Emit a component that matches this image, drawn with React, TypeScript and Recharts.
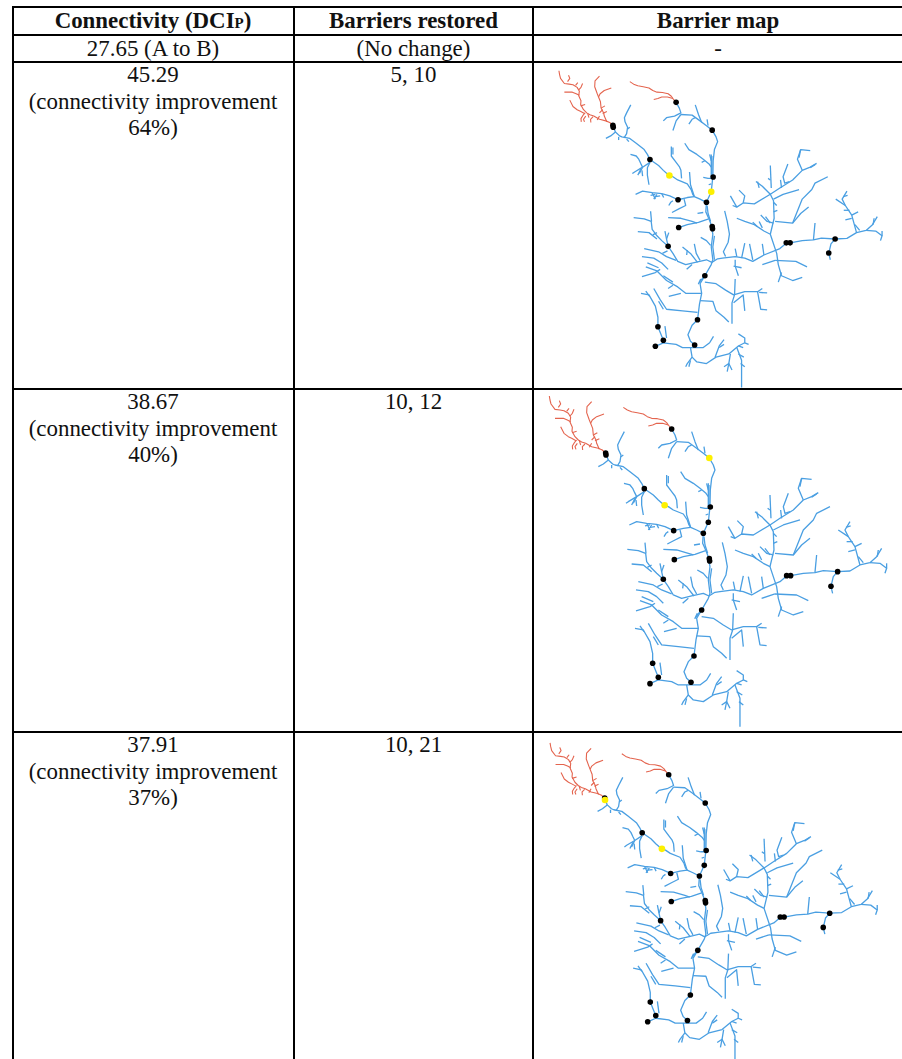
import React from "react";
import { ScatterChart, Scatter, XAxis, YAxis } from "recharts";

type P = [number, number];

const redBranches: P[][] = [
  [[28,18],[30,30],[33,42],[45,58],[60,60],[72,62],[85,70],[92,82],[90,96],[97,112],[96,124],[105,140],[115,150],[125,156],[137,160],[155,170],[175,175],[187,180],[197,190]],
  [[58,32],[62,42],[55,52]], [[102,58],[97,70],[90,78]], [[45,85],[70,85],[82,90],[92,95]],
  [[62,110],[72,130],[85,140],[95,145],[108,152]],
  [[98,178],[97,168],[103,158],[110,150]], [[108,178],[105,170],[112,160]], [[128,180],[127,170],[135,162]],
  [[155,35],[141,50],[140,68],[148,90],[158,115],[160,135],[168,150],[170,160],[178,178]],
  [[192,72],[170,80],[157,90],[152,100]], [[155,150],[165,140]], [[160,135],[172,128]], [[165,152],[178,146]],
  [[148,172],[155,160]], [[118,152],[122,165]], [[96,128],[110,124]], [[80,64],[87,55]],
  [[250,52],[262,60],[275,65],[292,68],[310,72],[322,80],[335,85],[352,86],[370,90],[380,98],[385,105],[395,117]],
  [[325,108],[338,105],[350,100],[368,100],[385,105]],
];

const blueUpperBranches: P[][] = [
  [[197,190],[205,210],[218,222],[225,225],[250,230],[270,245],[295,265],[305,280],[313,296],[340,315],[355,330],[372,345],[385,350],[400,360],[430,372],[442,390],[447,405],[452,412],[470,420],[490,430]],
  [[175,230],[190,222],[205,210]], [[215,235],[215,225]], [[240,232],[247,240]],
  [[253,125],[240,150],[233,165],[235,178],[243,195],[240,215],[232,228]], [[243,200],[250,195]],
  [[313,305],[290,320],[284,308],[278,295],[270,285],[252,280]],
  [[313,305],[305,322],[305,345],[310,375]],
  [[290,320],[265,335],[258,340]], [[290,320],[280,340]], [[285,325],[275,345]], [[288,330],[290,348]],
  [[380,255],[380,285],[395,305],[405,318],[410,330],[412,355]], [[385,258],[385,280]],
  [[437,335],[440,375],[452,412]],
  [[268,405],[290,395],[320,400],[350,403],[375,410],[401,422],[430,415],[452,412]],
  [[320,400],[330,420]], [[335,405],[325,420]], [[315,408],[330,405]], [[330,412],[345,410]], [[372,440],[378,430],[385,425]],
  [[420,420],[425,440],[405,450],[382,462]], [[350,403],[356,415]],
  [[395,117],[405,135],[410,150],[390,160],[365,165],[355,175]],
  [[410,155],[395,175],[385,205]],
  [[410,155],[445,157],[470,175],[490,190],[508,204],[520,225],[525,240],[515,265],[511,300],[510,350],[505,397],[490,430]],
  [[455,125],[465,155],[475,180]], [[492,170],[495,190]], [[435,185],[445,170],[455,165]],
  [[422,245],[435,265],[460,280],[480,295],[498,310],[505,320]],
  [[485,300],[475,305]], [[500,280],[505,300]],
  [[480,352],[495,355],[510,355]],
  [[505,280],[505,350],[512,350]], [[507,285],[507,345]], [[497,375],[505,372]],
];

const blueMiddleBranches: P[][] = [
  [[490,430],[488,460],[497,480],[505,500],[510,530],[505,570],[510,610],[505,625],[485,660],[470,685],[475,715],[468,750],[462,798],[445,815],[432,845],[440,865],[453,877]],
  [[492,440],[495,465],[503,490]],
  [[515,535],[510,570],[515,610]], [[462,465],[480,462]],
  [[403,509],[430,500],[465,493],[497,482]],
  [[370,478],[410,480],[445,490],[460,495]],
  [[547,457],[555,490],[562,530],[558,555],[543,585],[550,600]],
  [[472,540],[490,550],[503,565]],
  [[262,478],[295,482],[317,490],[320,515],[335,535],[350,550],[370,568],[385,590],[400,615],[425,625],[455,618],[490,610],[507,618]],
  [[315,458],[318,490]], [[275,522],[310,525],[335,545]], [[360,520],[365,545],[370,568]], [[372,525],[365,545]],
  [[295,575],[340,585],[365,600],[395,612]],
  [[288,600],[325,605],[350,620],[370,640]],
  [[305,620],[340,635]], [[352,590],[368,582]], [[322,532],[335,525]],
  [[415,570],[440,590],[462,618]], [[452,560],[458,590],[470,612]], [[428,640],[445,625]], [[430,580],[428,595]],
  [[288,663],[330,650],[345,640]],
  [[300,632],[335,645],[365,675],[400,695],[425,715],[475,715]],
  [[372,725],[410,715]], [[355,660],[385,680]], [[385,690],[370,700]],
  [[472,670],[465,685],[480,665]],
];

const blueLowerBranches: P[][] = [
  [[285,715],[310,720],[330,755],[338,790],[338,820],[355,862]],
  [[300,708],[312,725]],
  [[325,700],[345,735],[365,765],[415,770],[462,775]],
  [[340,740],[355,765]], [[360,818],[365,855]],
  [[330,881],[355,870],[395,875],[415,885],[453,885],[480,885],[500,870],[512,850]],
  [[440,885],[445,915],[460,930],[490,935],[520,915],[560,905],[590,880],[610,870]],
  [[590,842],[610,855],[610,870],[622,875]], [[590,880],[605,885]],
  [[445,915],[430,935],[425,945]], [[440,925],[435,945]],
  [[517,915],[530,880],[545,860]], [[530,885],[545,875]],
  [[565,905],[560,935],[555,960]], [[545,945],[560,935],[570,955]],
  [[585,885],[600,925],[600,1010]], [[590,905],[607,915]], [[597,935],[610,945]],
  [[485,680],[520,685],[550,705],[575,720],[610,710],[650,710],[665,700]],
  [[650,710],[660,765],[680,767]], [[655,712],[680,714]],
  [[580,670],[578,720],[570,745],[570,810]],
  [[575,745],[605,720],[610,770]],
  [[470,738],[510,740],[520,770],[545,790],[560,805]],
];

const blueRightBranches: P[][] = [
  [[507,618],[525,607],[540,605],[580,600],[610,605],[635,615],[670,595],[720,575],[740,558],[752,557],[790,550],[825,548],[850,542],[893,545],[930,543],[960,525],[990,518],[1010,500],[1025,475]],
  [[990,518],[1020,520],[1040,535],[1035,550]], [[1040,520],[1040,535]], [[1012,500],[1015,480]],
  [[830,495],[825,548]],
  [[893,545],[880,560],[873,590],[878,610]],
  [[960,525],[945,470],[925,440],[895,420]],
  [[925,440],[915,420],[930,395]], [[945,470],[965,460]], [[925,485],[945,480]], [[938,455],[920,455]], [[918,412],[932,408]], [[955,500],[970,518]],
  [[585,480],[610,490],[640,500],[670,520],[690,530],[710,590],[715,625],[725,660],[760,675],[790,665]],
  [[705,612],[770,615],[805,632]], [[665,625],[705,612]], [[725,650],[715,680]],
  [[655,490],[665,510]], [[635,492],[648,505]], [[675,475],[690,495]],
  [[690,530],[702,480],[700,425],[690,405],[640,435],[605,432],[585,445],[572,440]],
  [[605,432],[610,410],[592,392]], [[565,410],[585,445]], [[700,460],[712,455]], [[700,430],[710,440]],
  [[690,405],[720,385],[760,360],[790,330],[815,320],[835,308]],
  [[790,330],[775,295],[785,265],[815,268]], [[780,290],[785,265]], [[815,322],[830,312]],
  [[690,315],[693,385]], [[683,355],[690,360]], [[645,365],[665,380],[690,405]], [[650,365],[655,385]],
  [[725,385],[722,360]], [[745,310],[730,350],[735,370],[750,365]],
  [[700,420],[730,405],[780,390]],
  [[705,490],[760,495],[785,465],[810,445]],
  [[760,495],[790,420],[820,390],[830,370],[870,350]],
  [[660,470],[680,490],[700,495]],
  [[580,610],[580,630],[590,660]], [[610,558],[600,605]], [[625,560],[635,610]],
  [[580,575],[585,600]], [[665,560],[670,595]], [[575,630],[600,635]],
];

const barriers: { id: string; x: number; y: number }[] = [
  { id: "A", x: 197, y: 189 }, { id: "A2", x: 198, y: 195 }, { id: "B", x: 395, y: 117 }, { id: "C", x: 508, y: 204 },
  { id: "D", x: 313, y: 296 }, { id: "E", x: 374, y: 346 }, { id: "F", x: 511, y: 351 },
  { id: "G", x: 505, y: 397 }, { id: "H", x: 401, y: 422 }, { id: "I", x: 490, y: 430 },
  { id: "J", x: 403, y: 509 }, { id: "K", x: 508, y: 506 }, { id: "K2", x: 509, y: 513 },
  { id: "L", x: 370, y: 568 }, { id: "M", x: 740, y: 557 }, { id: "N", x: 752, y: 557 },
  { id: "O", x: 893, y: 545 }, { id: "P", x: 873, y: 589 }, { id: "Q", x: 485, y: 660 },
  { id: "R", x: 462, y: 798 }, { id: "S", x: 338, y: 820 }, { id: "T", x: 355, y: 862 },
  { id: "U", x: 330, y: 881 }, { id: "V", x: 453, y: 877 },
];

const headers = ["Connectivity (DCI", "Barriers restored", "Barrier map"];
const baselineRow = ["27.65 (A to B)", "(No change)", "-"];
const connectivity = ["45.29", "38.67", "37.91"];
const improvements = ["64%)", "40%)", "37%)"];
const restored = ["5, 10", "10, 12", "10, 21"];
const restoredIds = [["E", "G"], ["C", "E"], ["A2", "E"]];

const mapFrames = [
  { left: 549.6, top: 64.9, scale: 0.3193 },
  { left: 540, top: 390, scale: 0.3333 },
  { left: 540.6, top: 736.8, scale: 0.3233 },
];
const rowTops = [62, 389, 732];
const hLines = [7, 35, 62, 389, 732];
const vLines = [13, 294, 533];
const BLUE = "#4a9fe2";
const RED = "#e4644e";
const FONT = "'Liberation Serif', 'Times New Roman', serif";

const toPoints = (b: P[]) => b.map(([x, y]) => ({ x, y }));
const noShape = () => <g />;
const blueBranches = [...blueUpperBranches, ...blueMiddleBranches, ...blueLowerBranches, ...blueRightBranches];

function BarrierMap({ frame, yellow }: { frame: { left: number; top: number; scale: number }; yellow: string[] }) {
  const w = 1086 * frame.scale;
  const h = 1030 * frame.scale;
  const black = barriers.filter((b) => !yellow.includes(b.id));
  const gold = barriers.filter((b) => yellow.includes(b.id));
  return (
    <div style={{ position: "absolute", left: frame.left, top: frame.top }}>
      <ScatterChart width={w} height={h} margin={{ top: 0, right: 0, bottom: 0, left: 0 }}>
        <XAxis type="number" dataKey="x" domain={[0, 1086]} hide />
        <YAxis type="number" dataKey="y" domain={[0, 1030]} reversed hide />
        {blueBranches.map((b, i) => (
          <Scatter key={"b" + i} data={toPoints(b)} shape={noShape} isAnimationActive={false}
            line={{ stroke: BLUE, strokeWidth: 1.3, strokeLinejoin: "round" }} />
        ))}
        {redBranches.map((b, i) => (
          <Scatter key={"r" + i} data={toPoints(b)} shape={noShape} isAnimationActive={false}
            line={{ stroke: RED, strokeWidth: 1.1, strokeLinejoin: "round" }} />
        ))}
        <Scatter data={black} isAnimationActive={false}
          shape={(p: any) => <circle cx={p.cx} cy={p.cy} r={2.8} fill="#000" />} />
        <Scatter data={gold} isAnimationActive={false}
          shape={(p: any) => <circle cx={p.cx} cy={p.cy} r={3.3} fill="#fdf000" />} />
      </ScatterChart>
    </div>
  );
}

const colCenters = [153, 413.5, 718];
const cellText = (col: number, top: number, lines: React.ReactNode[], bold = false) =>
  lines.map((t, i) => (
    <div key={col + "-" + top + "-" + i}
      style={{
        position: "absolute", left: colCenters[col] - 150, width: 300, top: top + i * 26.5,
        textAlign: "center", fontFamily: FONT, fontSize: 22.9, lineHeight: "26px",
        fontWeight: bold ? 700 : 400, color: "#111", whiteSpace: "nowrap",
      }}>
      {t}
    </div>
  ));

export default function App() {
  return (
    <div style={{ position: "absolute", left: 0, top: 0, width: 902, height: 1059, overflow: "hidden", background: "#fff" }}>
      {hLines.map((y) => (
        <div key={"h" + y} style={{ position: "absolute", left: 12, right: 0, top: y - 1, height: 2, background: "#000" }} />
      ))}
      {vLines.map((x) => (
        <div key={"v" + x} style={{ position: "absolute", left: x - 1, top: 6, bottom: 0, width: 2, background: "#000" }} />
      ))}
      {cellText(0, 7.5, [<>{headers[0]}<span style={{ fontSize: 15 }}>P</span>)</>], true)}
      {cellText(1, 7.5, [headers[1]], true)}
      {cellText(2, 7.5, [headers[2]], true)}
      {baselineRow.map((t, c) => cellText(c, 35.5, [t]))}
      {rowTops.map((top, r) => (
        <React.Fragment key={r}>
          {cellText(0, top, [connectivity[r], "(connectivity improvement", improvements[r]])}
          {cellText(1, top, [restored[r]])}
        </React.Fragment>
      ))}
      {mapFrames.map((f, i) => (
        <BarrierMap key={i} frame={f} yellow={restoredIds[i]} />
      ))}
    </div>
  );
}
